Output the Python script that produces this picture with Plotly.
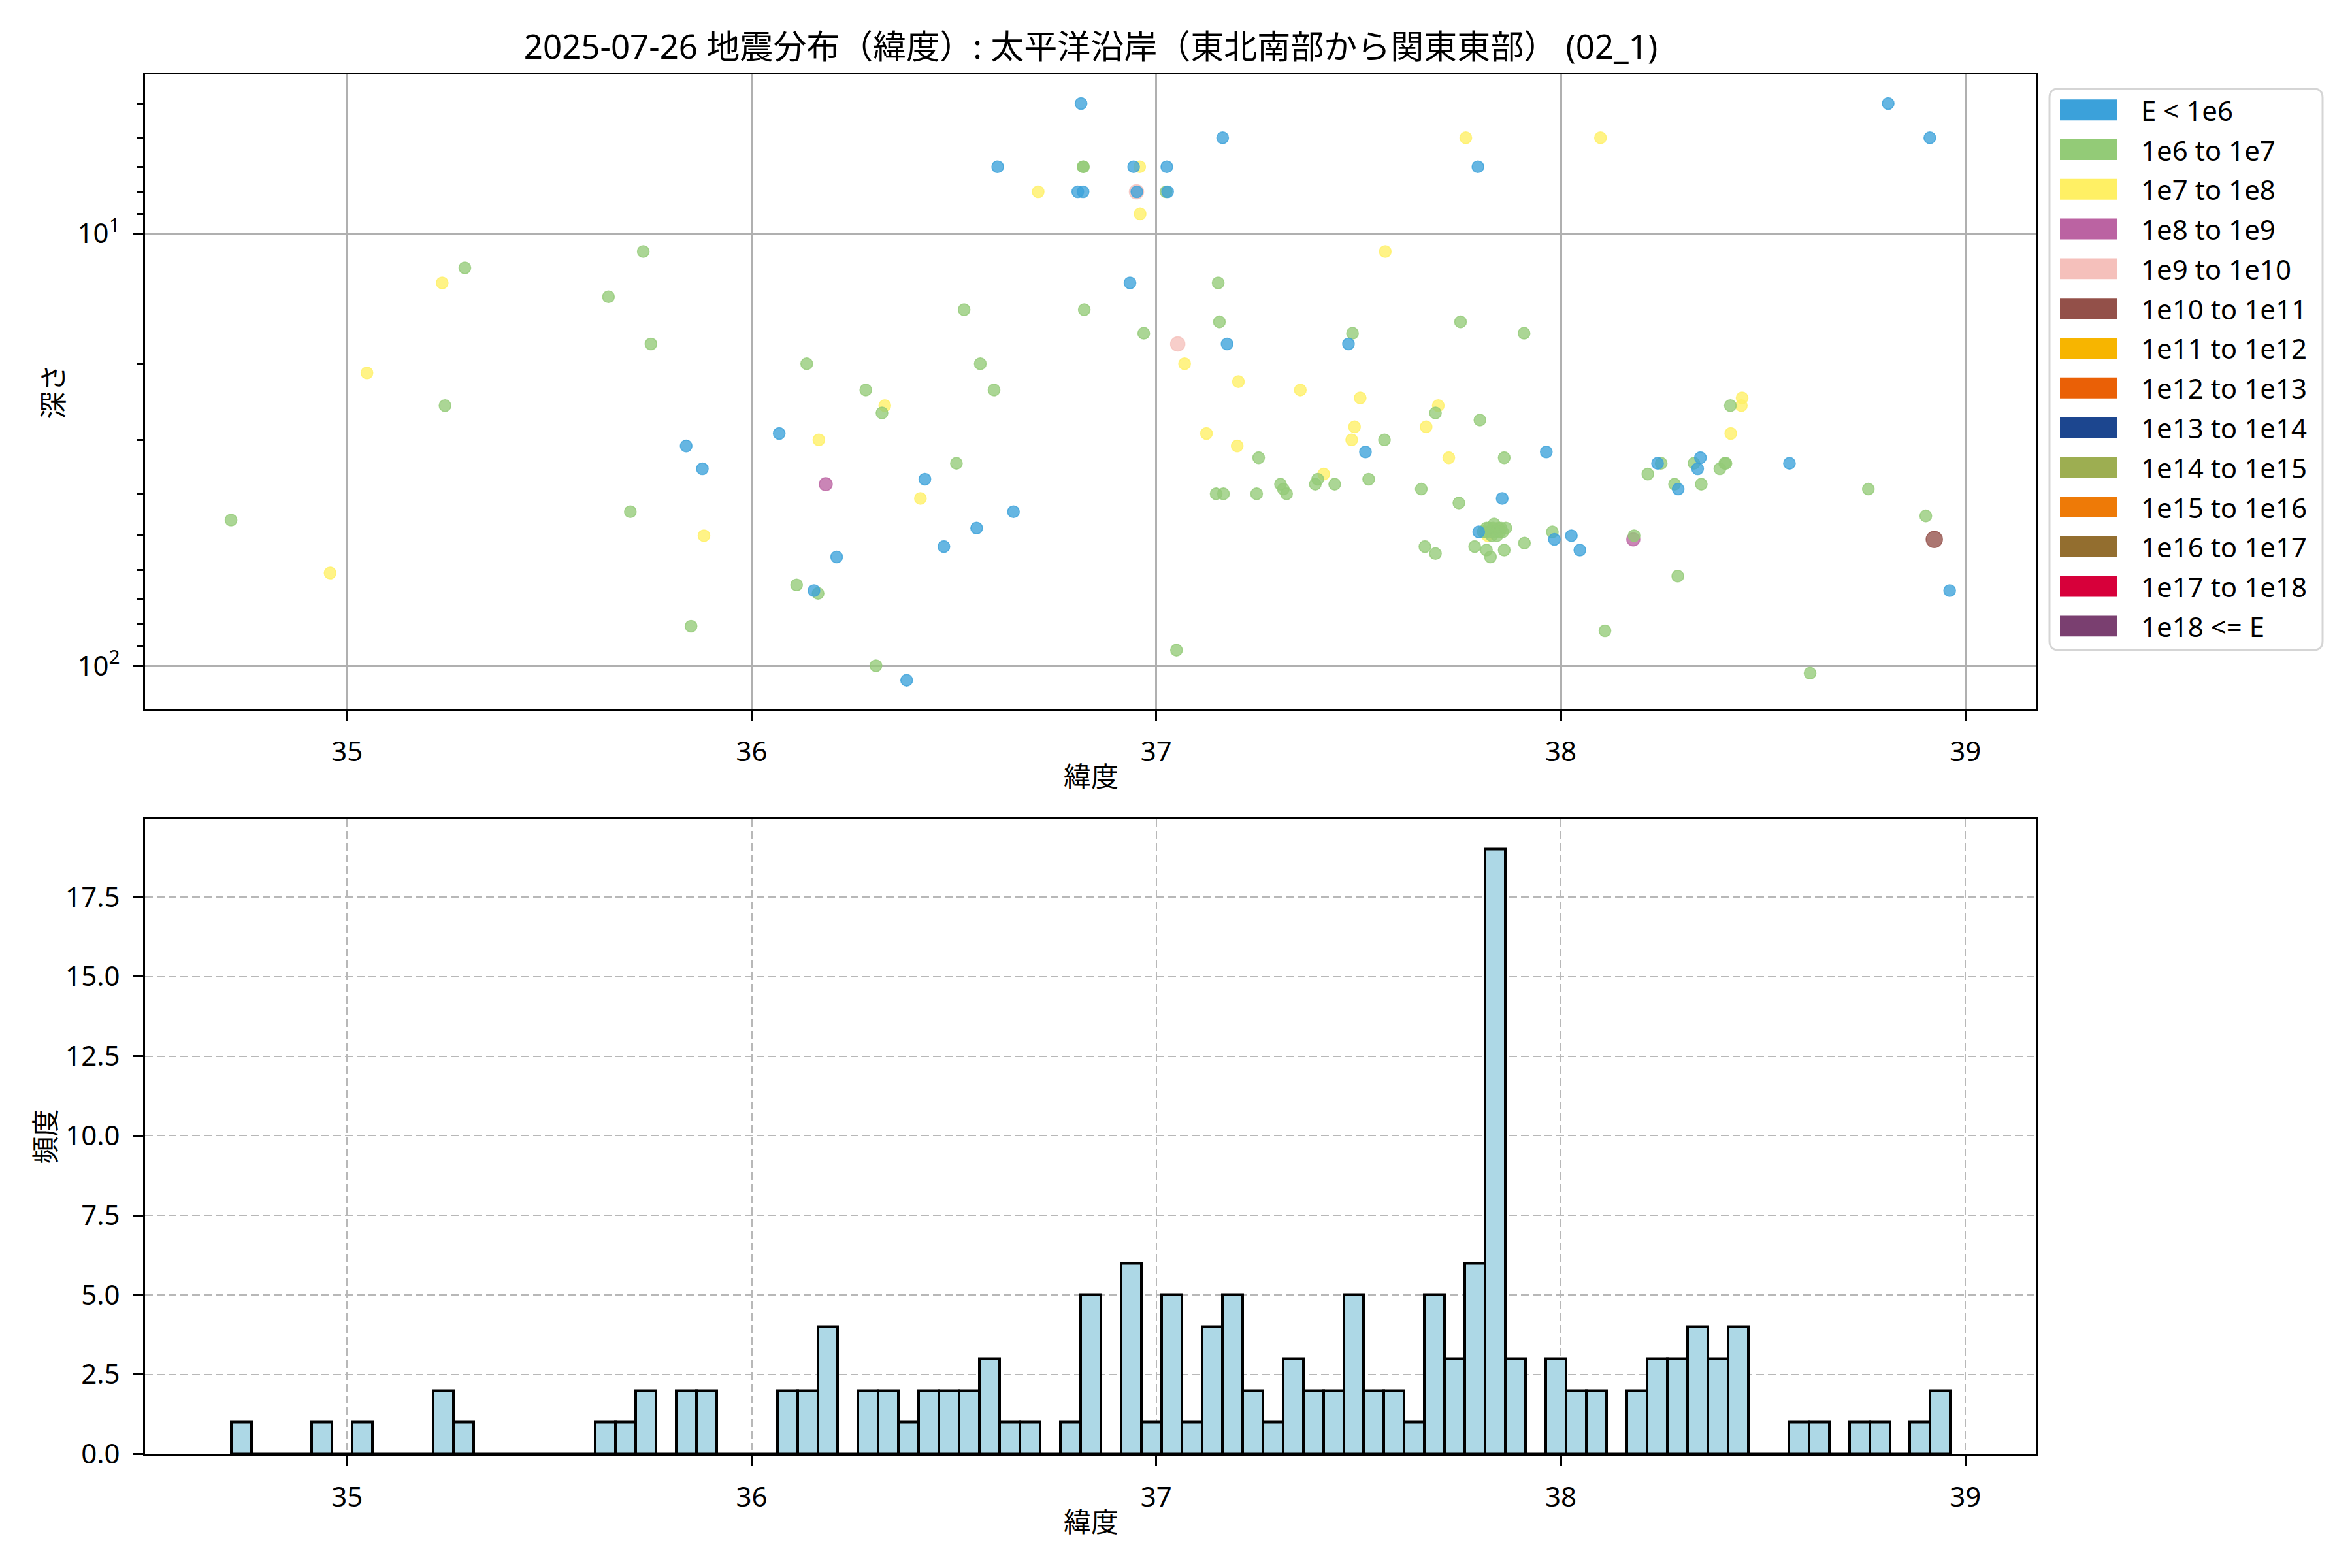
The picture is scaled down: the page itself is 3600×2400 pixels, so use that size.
import plotly.graph_objects as go

# page body has an 8px margin: the figure is drawn from (8, 8) in the window.
OFF = 8
KY = 1.0095          # measured vertical correction of the captured page
W, H = 3600 - 2 * OFF, 2400 - 4 * OFF

# ---------------- data ----------------
title_text = "2025-07-26 地震分布（緯度）: 太平洋沿岸（東北南部から関東東部） (02_1)"
x_label = "緯度"
y_label_top = "深さ"
y_label_bottom = "頻度"

energy_labels = ["E < 1e6", "1e6 to 1e7", "1e7 to 1e8", "1e8 to 1e9", "1e9 to 1e10",
                 "1e10 to 1e11", "1e11 to 1e12", "1e12 to 1e13", "1e13 to 1e14",
                 "1e14 to 1e15", "1e15 to 1e16", "1e16 to 1e17", "1e17 to 1e18", "1e18 <= E"]
energy_colors = ["#3ba1da", "#93cb77", "#fff064", "#bb63a2", "#f5c0bb", "#935049",
                 "#f7b500", "#ea6006", "#1c468f", "#9dae51", "#ee7a07", "#936e2f",
                 "#d7003a", "#7a3f70"]

# earthquakes: latitude, depth (km), energy class index
lat = [34.713, 34.958, 35.049, 35.235, 35.242, 35.291, 35.646, 35.700, 35.732, 35.751,
       35.838, 35.850, 35.878, 35.882, 36.068, 36.111, 36.136, 36.154, 36.164, 36.166,
       36.183, 36.210, 36.282, 36.307, 36.329, 36.322, 36.383, 36.428, 36.417, 36.475,
       36.506, 36.525, 36.556, 36.565, 36.599, 36.608, 36.647, 36.708, 36.806, 36.814,
       36.819, 36.820, 36.819, 36.822, 36.935, 36.944, 36.959, 36.951, 36.952, 36.960,
       36.969, 37.026, 37.024, 37.028, 37.053, 37.050, 37.070, 37.124, 37.148, 37.153,
       37.156, 37.164, 37.166, 37.175, 37.200, 37.203, 37.248, 37.253, 37.307, 37.314,
       37.322, 37.356, 37.393, 37.399, 37.414, 37.441, 37.475, 37.483, 37.485, 37.490,
       37.504, 37.517, 37.525, 37.564, 37.566, 37.655, 37.664, 37.667, 37.690, 37.690,
       37.697, 37.723, 37.748, 37.752, 37.765, 37.787, 37.795, 37.797, 37.800, 37.808,
       37.816, 37.816, 37.819, 37.826, 37.829, 37.835, 37.846, 37.855, 37.856, 37.860,
       37.860, 37.814, 37.822, 37.828, 37.832, 37.838, 37.842, 37.849, 37.852, 37.864,
       37.909, 37.910, 37.964, 37.979, 37.984, 38.026, 38.047, 38.098, 38.109, 38.179,
       38.181, 38.215, 38.239, 38.248, 38.281, 38.289, 38.290, 38.329, 38.338, 38.345,
       38.347, 38.393, 38.405, 38.408, 38.419, 38.420, 38.446, 38.448, 38.565, 38.616,
       38.760, 38.809, 38.902, 38.912, 38.923, 38.961]
depth = [46, 61, 21, 13, 25, 12, 14, 44, 11, 18,
         31, 81, 35, 50, 29, 65, 20, 67, 68, 30,
         38, 56, 23, 100, 25, 26, 108, 37, 41, 53,
         34, 15, 48, 20, 23, 7, 44, 8, 8, 5,
         7, 7, 8, 15, 13, 7, 7, 8, 8, 9,
         17, 7, 8, 8, 18, 92, 20, 29, 40, 13,
         16, 6, 40, 18, 31, 22, 40, 33, 38, 39,
         40, 23, 38, 37, 36, 38, 18, 30, 17, 28,
         24, 32, 37, 30, 11, 39, 53, 28, 26, 55,
         25, 33, 42, 16, 6, 53, 7, 49, 27, 49,
         48, 54, 50, 56, 50, 47, 48, 41, 49, 33,
         54, 49, 48, 49, 48, 49, 50, 49, 48, 48,
         17, 52, 32, 49, 51, 50, 54, 6, 83, 51,
         50, 36, 34, 34, 38, 62, 39, 34, 35, 33,
         38, 35, 34, 34, 25, 29, 25, 24, 34, 104,
         39, 5, 45, 6, 51, 67]
energy_class = [1, 2, 2, 2, 1, 1, 1, 1, 1, 1,
                0, 1, 0, 2, 0, 1, 1, 0, 1, 2,
                3, 0, 1, 1, 2, 1, 0, 0, 2, 0,
                1, 1, 0, 1, 1, 0, 0, 2, 0, 0,
                1, 1, 0, 1, 0, 0, 2, 4, 0, 2,
                1, 0, 1, 0, 4, 1, 2, 2, 1, 1,
                1, 0, 1, 0, 2, 2, 1, 1, 1, 1,
                1, 2, 1, 1, 2, 1, 0, 2, 1, 2,
                2, 0, 1, 1, 2, 1, 1, 2, 1, 1,
                2, 2, 1, 1, 2, 1, 0, 0, 1, 1,
                1, 1, 2, 1, 1, 1, 1, 0, 1, 1,
                1, 1, 1, 1, 1, 1, 1, 1, 1, 1,
                1, 1, 0, 1, 0, 0, 0, 2, 1, 3,
                1, 1, 0, 1, 1, 1, 0, 1, 0, 0,
                1, 1, 1, 1, 1, 2, 2, 2, 0, 1,
                1, 0, 1, 0, 5, 0]

# histogram of latitude (85 bins)
hist_bin_start = 34.713
hist_bin_width = 0.05
hist_counts = [1, 0, 0, 0, 1, 0, 1, 0, 0, 0,
               2, 1, 0, 0, 0, 0, 0, 0, 1, 1,
               2, 0, 2, 2, 0, 0, 0, 2, 2, 4,
               0, 2, 2, 1, 2, 2, 2, 3, 1, 1,
               0, 1, 5, 0, 6, 1, 5, 1, 4, 5,
               2, 1, 3, 2, 2, 5, 2, 2, 1, 5,
               3, 6, 19, 3, 0, 3, 2, 2, 0, 2,
               3, 3, 4, 3, 4, 0, 0, 1, 1, 0,
               1, 1, 0, 1, 2]

x_ticks = [35, 36, 37, 38, 39]
hist_y_ticks = [0, 2.5, 5, 7.5, 10, 12.5, 15, 17.5]

# ---------------- style ----------------
FONT = "Noto Sans, Noto Sans CJK JP, sans-serif"
marker_sizes = [18, 18, 18, 20, 22, 25, 26, 27, 28, 29, 30, 31, 32, 33]
ALPHA = 0.78


def px(x):
    """target pixel x -> paper fraction"""
    return (x - OFF) / W


def py(y):
    """target pixel y -> paper fraction"""
    return 1 - (KY * y - OFF) / H


def rgba(hexc, a):
    h = hexc.lstrip("#")
    r, g, b = int(h[0:2], 16), int(h[2:4], 16), int(h[4:6], 16)
    return f"rgba({r},{g},{b},{a})"


fig = go.Figure()

# scatter, one trace per energy class (higher classes drawn first)
for k in reversed(range(len(energy_labels))):
    xs = [la for la, c in zip(lat, energy_class) if c == k]
    ys = [d for d, c in zip(depth, energy_class) if c == k]
    fig.add_trace(go.Scatter(
        x=xs, y=ys, mode="markers", name=energy_labels[k], showlegend=False,
        xaxis="x", yaxis="y",
        marker=dict(size=marker_sizes[k], color=rgba(energy_colors[k], ALPHA),
                    line=dict(color=rgba(energy_colors[k], ALPHA), width=1.6)),
    ))

# histogram bars
centers = [hist_bin_start + (i + 0.5) * hist_bin_width for i in range(len(hist_counts))]
fig.add_trace(go.Bar(
    x=centers, y=hist_counts, width=hist_bin_width, xaxis="x2", yaxis="y2",
    marker=dict(color="#add8e6", line=dict(color="black", width=4)),
    showlegend=False, name="頻度",
))

X0, X1 = 222, 3117
TOP0, TOP1 = 114, 1087
BOT0, BOT1 = 1256, 2230
LW = 3.3

common_x = dict(
    domain=[px(X0), px(X1)], range=[34.5005, 39.1755],
    tickmode="array", tickvals=x_ticks, ticktext=[str(t) for t in x_ticks],
    ticks="outside", ticklen=15, tickwidth=LW, tickcolor="black",
    showline=True, linecolor="black", linewidth=LW, mirror=True,
    zeroline=False, tickfont=dict(family=FONT, size=42, color="black"),
    ticklabelstandoff=12,
)

minor_vals = [5, 6, 7, 8, 9, 20, 30, 40, 50, 60, 70, 80, 90]

fig.update_layout(
    width=W, height=H, autosize=False,
    margin=dict(l=0, r=0, t=0, b=0),
    paper_bgcolor="white", plot_bgcolor="white",
    font=dict(family=FONT, size=42, color="black"),
    title=dict(text=title_text, x=px((X0 + X1) / 2), xanchor="center",
               y=py(72), yanchor="middle", xref="paper", yref="paper",
               font=dict(family=FONT, size=51, color="black")),
    xaxis=dict(anchor="y", showgrid=True, gridcolor="#b0b0b0", gridwidth=LW, **common_x),
    yaxis=dict(
        domain=[py(TOP1), py(TOP0)], anchor="x", type="log",
        range=[2.0996, 0.6314],
        tickmode="array", tickvals=[10, 100], ticktext=["10<sup>1</sup>", "10<sup>2</sup>"],
        ticks="outside", ticklen=15, tickwidth=LW, tickcolor="black",
        showline=True, linecolor="black", linewidth=LW, mirror=True,
        showgrid=True, gridcolor="#b0b0b0", gridwidth=LW, zeroline=False,
        tickfont=dict(family=FONT, size=42, color="black"), ticklabelstandoff=12,
        minor=dict(tickmode="array", tickvals=minor_vals, ticks="outside", ticklen=8.5,
                   tickwidth=2.5, tickcolor="black", showgrid=False),
    ),
    xaxis2=dict(anchor="y2", showgrid=True, gridcolor="#b8b8b8", gridwidth=2.2,
                griddash="12px,6px", **common_x),
    yaxis2=dict(
        domain=[py(BOT1), py(BOT0)], anchor="x2", range=[0, 19.95],
        tickmode="array", tickvals=hist_y_ticks,
        ticktext=[f"{v:.1f}" for v in hist_y_ticks],
        ticks="outside", ticklen=15, tickwidth=LW, tickcolor="black",
        showline=True, linecolor="black", linewidth=LW, mirror=True,
        showgrid=True, gridcolor="#b8b8b8", gridwidth=2.2, griddash="12px,6px",
        zeroline=False, tickfont=dict(family=FONT, size=42, color="black"),
        ticklabelstandoff=12,
    ),
    bargap=0,
)

# axis titles
ann = [
    dict(text=x_label, x=px((X0 + X1) / 2), y=py(1190), xanchor="center", yanchor="middle"),
    dict(text=x_label, x=px((X0 + X1) / 2), y=py(2333), xanchor="center", yanchor="middle"),
    dict(text=y_label_top, x=px(80), y=py((TOP0 + TOP1) / 2), textangle=-90,
         xanchor="center", yanchor="middle"),
    dict(text=y_label_bottom, x=px(69), y=py((BOT0 + BOT1) / 2), textangle=-90,
         xanchor="center", yanchor="middle"),
]
for a in ann:
    a.update(xref="paper", yref="paper", showarrow=False,
             font=dict(family=FONT, size=42, color="black"))
    fig.add_annotation(**a)

# legend (frame + colour patches + labels)
LX0, LX1, LY0, LY1, R = 3137, 3555, 136, 997, 14
path = (f"M {px(LX0 + R)},{py(LY0)} L {px(LX1 - R)},{py(LY0)} "
        f"Q {px(LX1)},{py(LY0)} {px(LX1)},{py(LY0 + R)} "
        f"L {px(LX1)},{py(LY1 - R)} Q {px(LX1)},{py(LY1)} {px(LX1 - R)},{py(LY1)} "
        f"L {px(LX0 + R)},{py(LY1)} Q {px(LX0)},{py(LY1)} {px(LX0)},{py(LY1 - R)} "
        f"L {px(LX0)},{py(LY0 + R)} Q {px(LX0)},{py(LY0)} {px(LX0 + R)},{py(LY0)} Z")
fig.add_shape(type="path", path=path, xref="paper", yref="paper",
              fillcolor="white", line=dict(color="#d5d5d5", width=3), layer="above")
ROW0, DROW = 168.5, 60.9
for k, (lab, col) in enumerate(zip(energy_labels, energy_colors)):
    yc = ROW0 + k * DROW
    fig.add_shape(type="rect", xref="paper", yref="paper",
                  x0=px(3153), x1=px(3240), y0=py(yc - 16), y1=py(yc + 16),
                  fillcolor=col, line=dict(width=0), layer="above")
    fig.add_annotation(text=lab, x=px(3275), y=py(yc), xref="paper", yref="paper",
                       xanchor="left", yanchor="middle", showarrow=False,
                       font=dict(family=FONT, size=42, color="black"))

fig.write_html("out.html")
